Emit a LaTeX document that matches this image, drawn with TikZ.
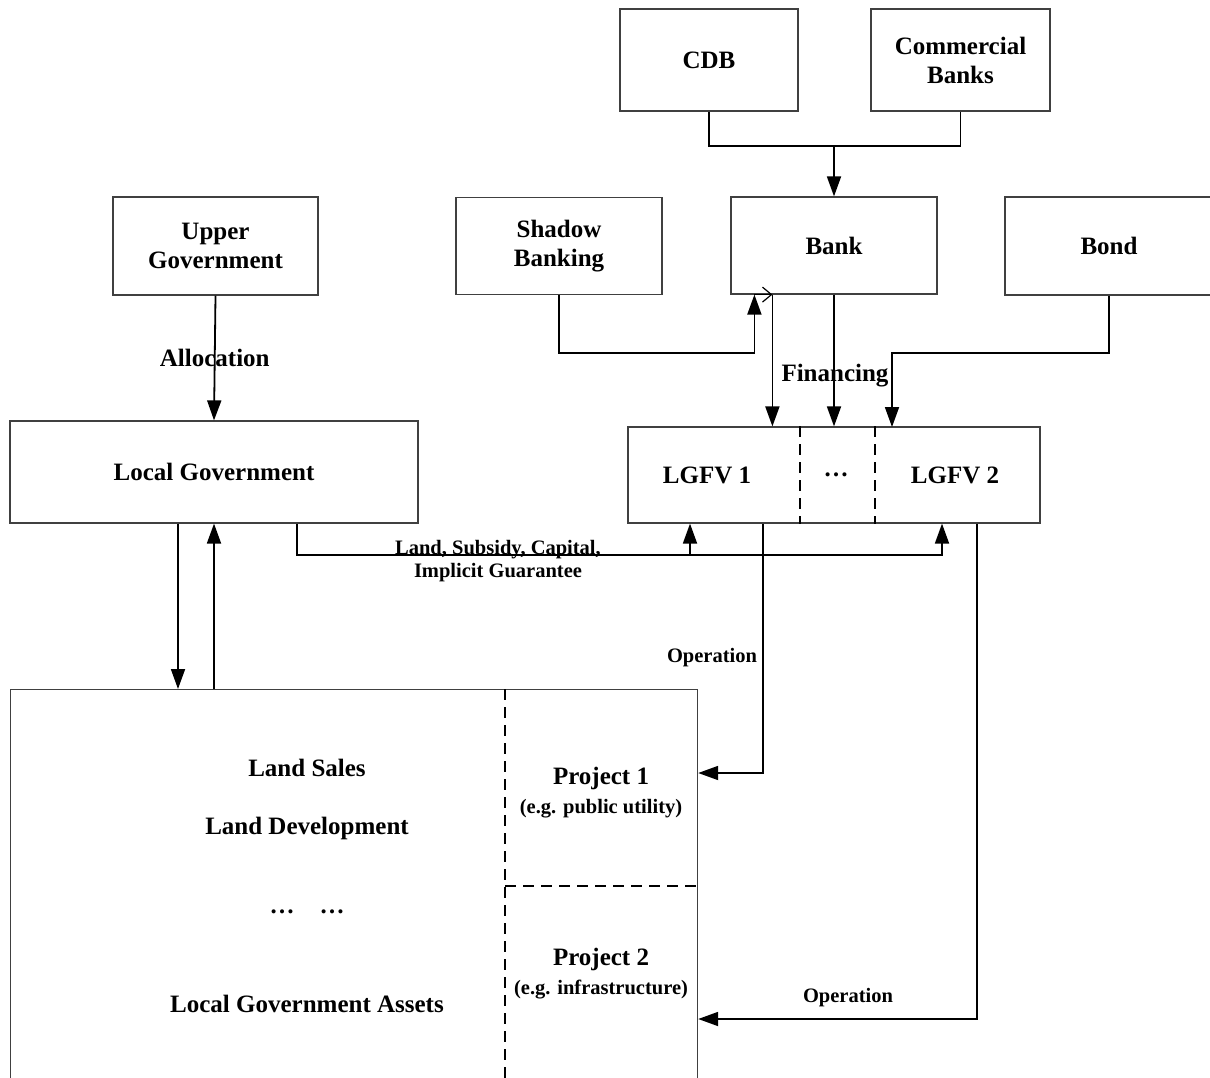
\documentclass[tikz,border=0pt]{standalone}
\usepackage{fontspec}
\setmainfont{Liberation Serif}
\usetikzlibrary{calc,arrows.meta}
\newcommand\boxfont{\fontsize{25}{29}\selectfont\bfseries}
\newcommand\tagfont{\fontsize{20.5}{23}\selectfont\bfseries}
\tikzset{
	box/.style={draw=black!75, line width=1.2pt, align=center, inner sep=0pt, font=\boxfont},
	txt/.style={align=center, inner sep=0pt, font=\boxfont},
	tag/.style={align=center, inner sep=0pt, font=\tagfont},
	link/.style={line width=1.8pt},
	arr/.style={link, -{Triangle[length=20pt,width=14pt]}},
	split/.style={draw=black, line width=1.4pt, dash pattern=on 11pt off 7pt}
}

\begin{document}
\begin{tikzpicture}[x=1pt, y=-1pt]
	%%%%% START %%%%%
	\useasboundingbox (0,0) rectangle (1210,1078);
	
	% lenders
	\node[box, minimum width=178pt, minimum height=102pt] (cdb) at (709,60) {CDB};
	\node[box, minimum width=179pt, minimum height=102pt] (combank) at (960.5,60) {Commercial\\Banks};
	
	\node[box, minimum width=205pt, minimum height=98pt] (upgov) at (215.5,246) {Upper\\Government};
	\node[box, minimum width=206pt, minimum height=97pt] (shadow) at (559,246) {Shadow\\Banking};
	\node[box, minimum width=206pt, minimum height=97pt] (bank) at (834,245.5) {Bank};
	\node[box, minimum width=208pt, minimum height=98pt] (bond) at (1109,246) {Bond};
	
	% government and vehicles
	\node[box, minimum width=408pt, minimum height=102pt] (locgov) at (214,472) {Local Government};
	\node[box, minimum width=412pt, minimum height=96pt] (lgfv) at (834,475) {};
	\node[txt] (lgfva) at (707,475) {LGFV 1};
	\node[txt] (lgfvdots) at (836,475) {\dots};
	\node[txt] (lgfvb) at (955,475) {LGFV 2};
	\draw[split] (lgfv.north -| 800,0) -- (lgfv.south -| 800,0);
	\draw[split] (lgfv.north -| 875,0) -- (lgfv.south -| 875,0);
	
	% assets and projects
	\node[box, minimum width=687pt, minimum height=410pt, anchor=north west] (assets) at (10,689) {};
	\coordinate (cut) at (505,689);
	\draw[split] (cut) -- (cut |- assets.south);
	\draw[split] (cut |- 0,886) -- (assets.east |- 0,886);
	\node[txt] (landsales) at (307,768) {Land Sales};
	\node[txt] (landdev) at (307,828) {Land Development};
	\node[txt] (assetdots) at (307,912) {\dots\quad\dots};
	\node[txt] (lgassets) at (307,1004) {Local Government Assets};
	\node[txt] (proj1) at (601,778) {Project 1};
	\node[tag] (proj1note) at (601,809) {(e.g. public utility)};
	\node[txt] (proj2) at (601,959) {Project 2};
	\node[tag] (proj2note) at (601,990) {(e.g. infrastructure)};
	
	% CDB and commercial banks into the bank
	\coordinate (join) at (834,146);
	\draw[link] (cdb.south) |- (join) -| (combank.south);
	\draw[arr] (join) -- (bank.north);
	
	% shadow banking and financing
	\coordinate (sbin) at ($(bank.south west)+(24,0)$);
	\coordinate (fin) at ($(bank.south west)+(42,0)$);
	\draw[arr] (shadow.south) -- ++(0,58) -| (sbin);
	\draw[line width=1.2pt, -{Straight Barb[length=9pt,width=15pt]}] (sbin) -- (fin);
	\draw[arr] (fin) -- (fin |- lgfv.north);
	\draw[arr] (bank.south) -- (bank.south |- lgfv.north);
	\coordinate (bondin) at (892,427);
	\draw[arr] (bond.south) -- ++(0,57) -| (bondin);
	\node[txt] (financing) at (835,376) {Financing};
	
	% allocation
	\draw[arr] (upgov.south) -- node[txt] (alloc) {Allocation} (locgov.north);
	
	% local government and its assets
	\draw[arr] (locgov.south -| 178,0) -- (assets.north -| 178,0);
	\draw[arr] (assets.north -| locgov.south) -- (locgov.south);
	
	% support to the vehicles
	\coordinate (support) at (297,555);
	\draw[arr] (locgov.south -| support) -- (support) -| (lgfv.south -| 942,0);
	\draw[arr] (support -| 690,0) -- (lgfv.south -| 690,0);
	\node[tag] (supportlbl) at (498,561) {Land, Subsidy, Capital,\\Implicit Guarantee};
	
	% operation
	\draw[arr] (lgfv.south -| 763,0) |- (assets.east |- 0,773);
	\node[tag] (op1) at (712,658) {Operation};
	\draw[arr] (lgfv.south -| 977,0) |- (assets.east |- 0,1019);
	\node[tag] (op2) at (848,998) {Operation};
	
	%%%%% END %%%%%
\end{tikzpicture}
\end{document}
